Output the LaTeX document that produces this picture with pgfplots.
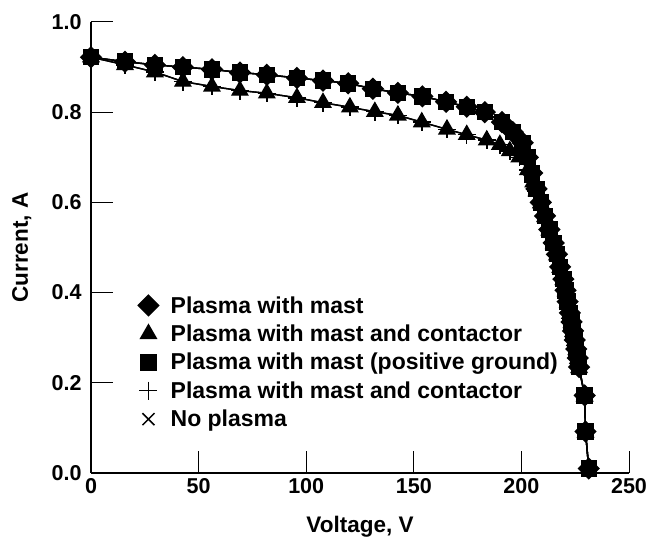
\documentclass[border=0pt]{standalone}
\usepackage{pgfplots}
\pgfplotsset{compat=1.18}
\usepackage{pgfplotstable}
\usepackage{fontspec}
\setmainfont{Liberation Sans}

\pgfplotstableread{
V I
0 0.922
15.8 0.912
29.7 0.905
42.7 0.900
56.2 0.895
69.2 0.888
81.7 0.883
95.7 0.876
107.8 0.870
119.5 0.864
131 0.852
142.6 0.843
154 0.835
165 0.823
174.6 0.812
183 0.800
191 0.778
196 0.756
200.6 0.732
203 0.700
205 0.665
207 0.630
209 0.600
211 0.570
213 0.540
215 0.510
216.5 0.485
218 0.457
219.5 0.430
220.5 0.405
221.5 0.380
222.5 0.355
223.3 0.335
224 0.315
224.8 0.295
225.5 0.275
226.2 0.255
226.8 0.235
229.4 0.172
229.8 0.092
231.3 0.010
}\upperdata

\pgfplotstableread{
V I
0 0.922
15.8 0.905
29.7 0.889
42.7 0.868
56.2 0.857
69.2 0.848
81.7 0.842
95.7 0.832
107.8 0.821
120.3 0.811
131.9 0.801
142.6 0.793
153.7 0.778
165.4 0.762
174.6 0.750
183.9 0.738
190 0.728
194.6 0.714
199 0.700
203 0.672
205.5 0.645
207 0.625
209 0.598
211 0.568
213 0.538
215 0.508
216.5 0.483
218 0.455
219.5 0.428
220.5 0.403
221.5 0.378
222.5 0.353
223.3 0.333
224 0.313
224.8 0.293
225.5 0.273
226.2 0.253
226.8 0.233
229.4 0.170
229.8 0.090
231.3 0.010
}\lowerdata

\begin{document}
\begin{tikzpicture}[font=\bfseries]
\begin{axis}[
  scale only axis, width=538bp, height=451bp,
  xmin=0, xmax=250, ymin=0, ymax=1,
  axis x line=bottom, axis y line=left,
  axis line style={-, line width=1.2bp, black},
  tick align=inside, major tick length=22bp,
  tick style={line width=1bp, black},
  xtick={0,50,100,150,200,250},
  ytick={0,0.2,0.4,0.6,0.8,1},
  yticklabel style={xshift=-6bp, /pgf/number format/.cd, fixed, fixed zerofill, precision=1},
  /pgf/number format/assume math mode=true,
  tick label style={font=\fontsize{21.5bp}{26bp}\selectfont\bfseries},
  xticklabel style={yshift=-2bp},
  xlabel={Voltage, V}, ylabel={Current, A},
  every axis x label/.style={at={([yshift=-59bp]current axis.south)}, anchor=base,
    font=\fontsize{22.5bp}{27bp}\selectfont\bfseries},
  every axis y label/.style={at={([xshift=-63bp]current axis.west)}, rotate=90, anchor=base,
    font=\fontsize{22.5bp}{27bp}\selectfont\bfseries},
  legend cell align=left,
  legend style={at={(axis cs:20.5,0.401)}, anchor=north west, draw=none, fill=none,
    font=\fontsize{23bp}{27bp}\selectfont\bfseries, row sep=6.3bp,
    /tikz/every odd column/.append style={column sep=10bp}},
  legend image code/.code={\draw[#1, only marks] plot coordinates {(0.3cm,0cm)};},
  every axis plot/.append style={line width=1.4bp, black},
]
\addplot[mark=square*, mark size=7.2bp, mark options={rotate=45, solid, fill=black}] table[x=V,y=I] {\upperdata};
\addlegendentry{Plasma with mast}
\addplot[mark=triangle*, mark size=9bp, mark options={solid, fill=black}] table[x=V,y=I] {\lowerdata};
\addlegendentry{Plasma with mast and contactor}
\addplot[mark=square*, mark size=7.5bp, mark options={solid, fill=black}] table[x=V,y=I] {\upperdata};
\addlegendentry{Plasma with mast (positive ground)}
\addplot[mark=+, mark size=9bp, mark options={solid, line width=1.5bp}] table[x=V,y=I] {\lowerdata};
\addlegendentry{Plasma with mast and contactor}
\addplot[mark=x, mark size=8.5bp, mark options={solid, line width=1.5bp}] table[x=V,y=I] {\upperdata};
\addlegendentry{No plasma}
\end{axis}
\pgfresetboundingbox
\path[use as bounding box] ([shift={(-91bp,-64bp)}]current axis.south west) rectangle ++(654bp,537bp);
\end{tikzpicture}
\end{document}
